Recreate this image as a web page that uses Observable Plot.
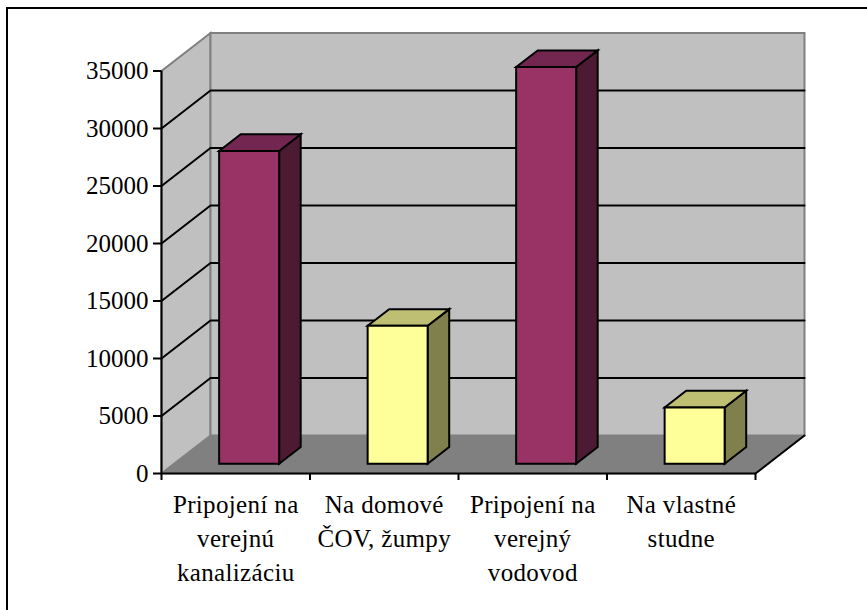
<!DOCTYPE html>
<html>
<head>
<meta charset="utf-8">
<script src="https://cdn.jsdelivr.net/npm/d3@7"></script>
<script src="https://cdn.jsdelivr.net/npm/@observablehq/plot@0.6"></script>
<style>
html,body{margin:0;padding:0;background:#fff;color:#000;}
#frame{position:absolute;left:6px;top:7px;width:861px;height:603px;border-left:2px solid #000;border-top:2px solid #000;box-sizing:border-box;}
#chart{position:absolute;left:0;top:0;}
g[aria-label="text"] text{letter-spacing:.35px;}
</style>
</head>
<body>
<div id="frame"></div>
<div id="chart"></div>
<script>
const categories = ["Pripojení na\nverejnú\nkanalizáciu", "Na domové\nČOV, žumpy", "Pripojení na\nverejný\nvodovod", "Na vlastné\nstudne"];
const values = [27200, 12000, 34500, 4900];
const frontColors = ["#993366", "#ffff99", "#993366", "#ffff99"];
const topColors = ["#732650", "#bfbf73", "#732650", "#bfbf73"];
const sideColors = ["#4d1a33", "#80804d", "#4d1a33", "#80804d"];
const yTicks = [0, 5000, 10000, 15000, 20000, 25000, 30000, 35000];
const xTicks = [0, 1, 2, 3, 4];

// Oblique projection: one unit of depth, in x-scale and y-scale units.
const depthX = 0.33, depthY = 3300;
// Bar placement inside a category and along the depth, as fractions.
const barStart = 0.304, barWidth = 0.404, depthFront = 0.255, depthBack = 0.695;
const yMax = 35000, nCat = categories.length;

const P = (x, y, d = 0) => [x + d * depthX, y + d * depthY];
const face = (pts, fill, stroke, strokeWidth) =>
  Plot.line(pts, {x: d => d[0], y: d => d[1], curve: "linear-closed", fill, stroke, strokeWidth, strokeLinejoin: "miter", strokeMiterlimit: 4});

const walls = [
  face([P(0, 0), P(0, yMax), P(0, yMax, 1), P(0, 0, 1)], "#c0c0c0", "#808080", 2),
  face([P(0, 0, 1), P(0, yMax, 1), P(nCat, yMax, 1), P(nCat, 0, 1)], "#c0c0c0", "#808080", 2),
  face([P(0, 0), P(0, 0, 1), P(nCat, 0, 1), P(nCat, 0)], "#808080", "#808080", 1)
];

const grid = yTicks.filter(v => v > 0 && v < yMax).map(v =>
  Plot.line([P(0, v), P(0, v, 1), P(nCat, v, 1)], {x: d => d[0], y: d => d[1], stroke: "#000", strokeWidth: 2, strokeLinejoin: "miter"})
);

const floorEdge = Plot.line([P(nCat, 0), P(nCat, 0, 1)], {x: d => d[0], y: d => d[1], stroke: "#000", strokeWidth: 2});

const bars = values.flatMap((v, i) => {
  const x0 = i + barStart, x1 = x0 + barWidth;
  return [
    face([P(x1, 0, depthFront), P(x1, v, depthFront), P(x1, v, depthBack), P(x1, 0, depthBack)], sideColors[i], "#000", 2),
    face([P(x0, v, depthFront), P(x0, v, depthBack), P(x1, v, depthBack), P(x1, v, depthFront)], topColors[i], "#000", 2),
    face([P(x0, 0, depthFront), P(x0, v, depthFront), P(x1, v, depthFront), P(x1, 0, depthFront)], frontColors[i], "#000", 2)
  ];
});

const plot = Plot.plot({
  width: 867,
  height: 610,
  marginLeft: 161,
  marginRight: 112,
  marginTop: 70.5,
  marginBottom: 137,
  x: {domain: [0, nCat], axis: null},
  y: {domain: [0, yMax], axis: null},
  style: {fontFamily: "'Liberation Serif', serif", fontSize: "25px", background: "transparent", overflow: "visible"},
  marks: [
    ...walls,
    ...grid,
    floorEdge,
    ...bars,
    Plot.ruleX([0], {y1: 0, y2: yMax, stroke: "#000", strokeWidth: 2}),
    Plot.ruleY([0], {x1: 0, x2: nCat, stroke: "#000", strokeWidth: 2}),
    Plot.axisY({ticks: yTicks, tickFormat: d => String(d), tickSize: 8, tickPadding: 5, strokeWidth: 2, label: null, fontSize: 25}),
    Plot.axisX({ticks: xTicks, tickFormat: () => "", tickSize: 7, strokeWidth: 2, label: null}),
    Plot.text(categories, {
      x: (d, i) => i + 0.5,
      y: () => 0,
      text: d => d,
      lineAnchor: "top",
      lineHeight: 1.36,
      dy: 15.5,
      fontSize: 25,
      textAnchor: "middle",
      fill: "#000"
    })
  ]
});
document.getElementById("chart").append(plot);
</script>
</body>
</html>
